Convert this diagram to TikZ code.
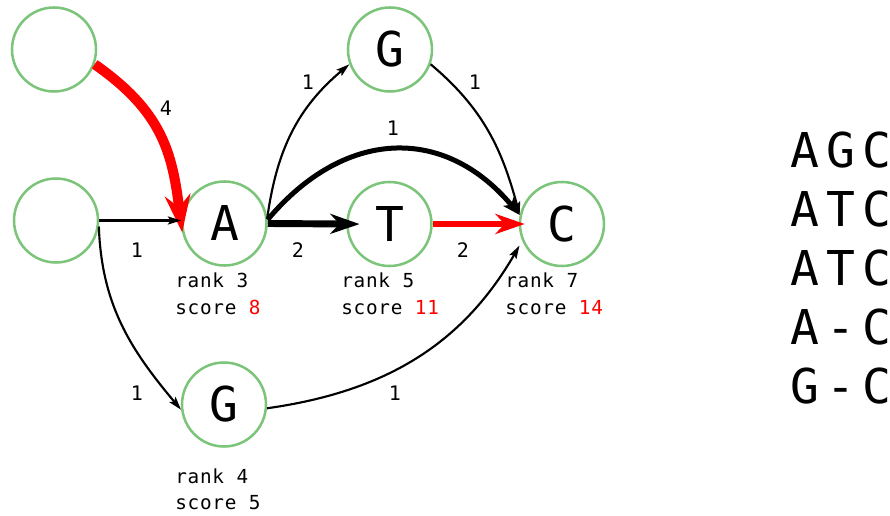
\documentclass[tikz,border=0pt]{standalone}
\usepackage{fontspec}
\setmonofont{DejaVu Sans Mono}
\usetikzlibrary{arrows.meta}
\definecolor{nodegreen}{RGB}{124,196,122}
\definecolor{pathred}{RGB}{255,0,0}

\tikzset{
  base/.style={circle,draw=nodegreen,line width=1.9pt,minimum size=63pt,
    inner sep=0pt,font=\ttfamily\fontsize{36}{36}\selectfont},
  info/.style={anchor=base west,inner sep=0pt,
    font=\ttfamily\fontsize{14.5}{17}\selectfont\addfontfeature{LetterSpace=4}},
  weight/.style={inner sep=0pt,font=\ttfamily\fontsize{15}{17}\selectfont},
  aln/.style={anchor=base,inner sep=0pt,font=\ttfamily\fontsize{36}{36}\selectfont},
  thinarc/.style={line width=1.6pt,-{Stealth[length=10pt,width=6pt,inset=2pt]}},
  heavy/.style={line width=5.2pt,-{Stealth[length=22pt,width=15pt,inset=7pt]}},
}

\begin{document}
\begin{tikzpicture}[x=0.75pt,y=-0.75pt]
  \useasboundingbox (0,0) rectangle (890,516);
  % graph nodes
  \node[base] (S1) at (54,49.5) {};
  \node[base] (S2) at (56,220.5) {};
  \node[base] (A) at (224.5,223.5) {A};
  \node[base] (Gt) at (390,49.5) {G};
  \node[base] (T) at (389.5,224) {T};
  \node[base] (C) at (562,224) {C};
  \node[base] (Gb) at (224,404.5) {G};
  % edges
  \draw[pathred,line width=7.5pt,-{Stealth[length=28pt,width=19pt,inset=9pt]}]
    (S1.-20) to[out=-35,in=97,looseness=1.1] (A.192);
  \draw[thinarc] (S2.east) -- (S2.east -| A.west);
  \draw[thinarc] (S2.-8) to[out=-88,in=130] (Gb.187);
  \draw[thinarc] (A.8) to[out=82,in=220] (Gt.200);
  \draw[line width=3.75pt,-{Stealth[length=13pt,width=10pt,inset=3pt]}]
    (A.5) to[out=50,in=130,looseness=1.2] (C.168);
  \draw[heavy,shorten >=-10pt] (A.east) -- (T.west);
  \draw[heavy,pathred,shorten >=-4.5pt] (T.east) -- (C.west);
  \draw[thinarc] (Gt.-20) to[out=-40,in=105] (C.168);
  \draw[thinarc,shorten >=4pt] (Gb.-5) to[out=8,in=240] (C.203);
  % weights
  \node[weight] (w1) at (166,108) {4};
  \node[weight] (w2) at (137,250) {1};
  \node[weight] (w3) at (137,393) {1};
  \node[weight] (w4) at (308,82) {1};
  \node[weight] (w5) at (393,128) {1};
  \node[weight] (w6) at (298,250) {2};
  \node[weight] (w7) at (463,250) {2};
  \node[weight] (w8) at (475,82) {1};
  \node[weight] (w9) at (395,393) {1};
  % rank and score
  \node[info] (rA) at (175,288) {rank 3};
  \node[info] (sA) at (175,315) {score \textcolor{pathred}{8}};
  \node[info] (rT) at (341,288) {rank 5};
  \node[info] (sT) at (341,315) {score \textcolor{pathred}{11}};
  \node[info] (rC) at (505,288) {rank 7};
  \node[info] (sC) at (505,315) {score \textcolor{pathred}{14}};
  \node[info] (rG) at (175,484) {rank 4};
  \node[info] (sG) at (175,510) {score 5};
  % alignment
  \foreach \a/\b/\c/\y [count=\i] in {A/G/C/168,A/T/C/227,A/T/C/286,A/-/C/345,G/-/C/404}{
    \node[aln] (m\i a) at (805,\y) {\a};
    \node[aln] (m\i b) at (841,\y) {\b};
    \node[aln] (m\i c) at (877,\y) {\c};
  }
\end{tikzpicture}
\end{document}
